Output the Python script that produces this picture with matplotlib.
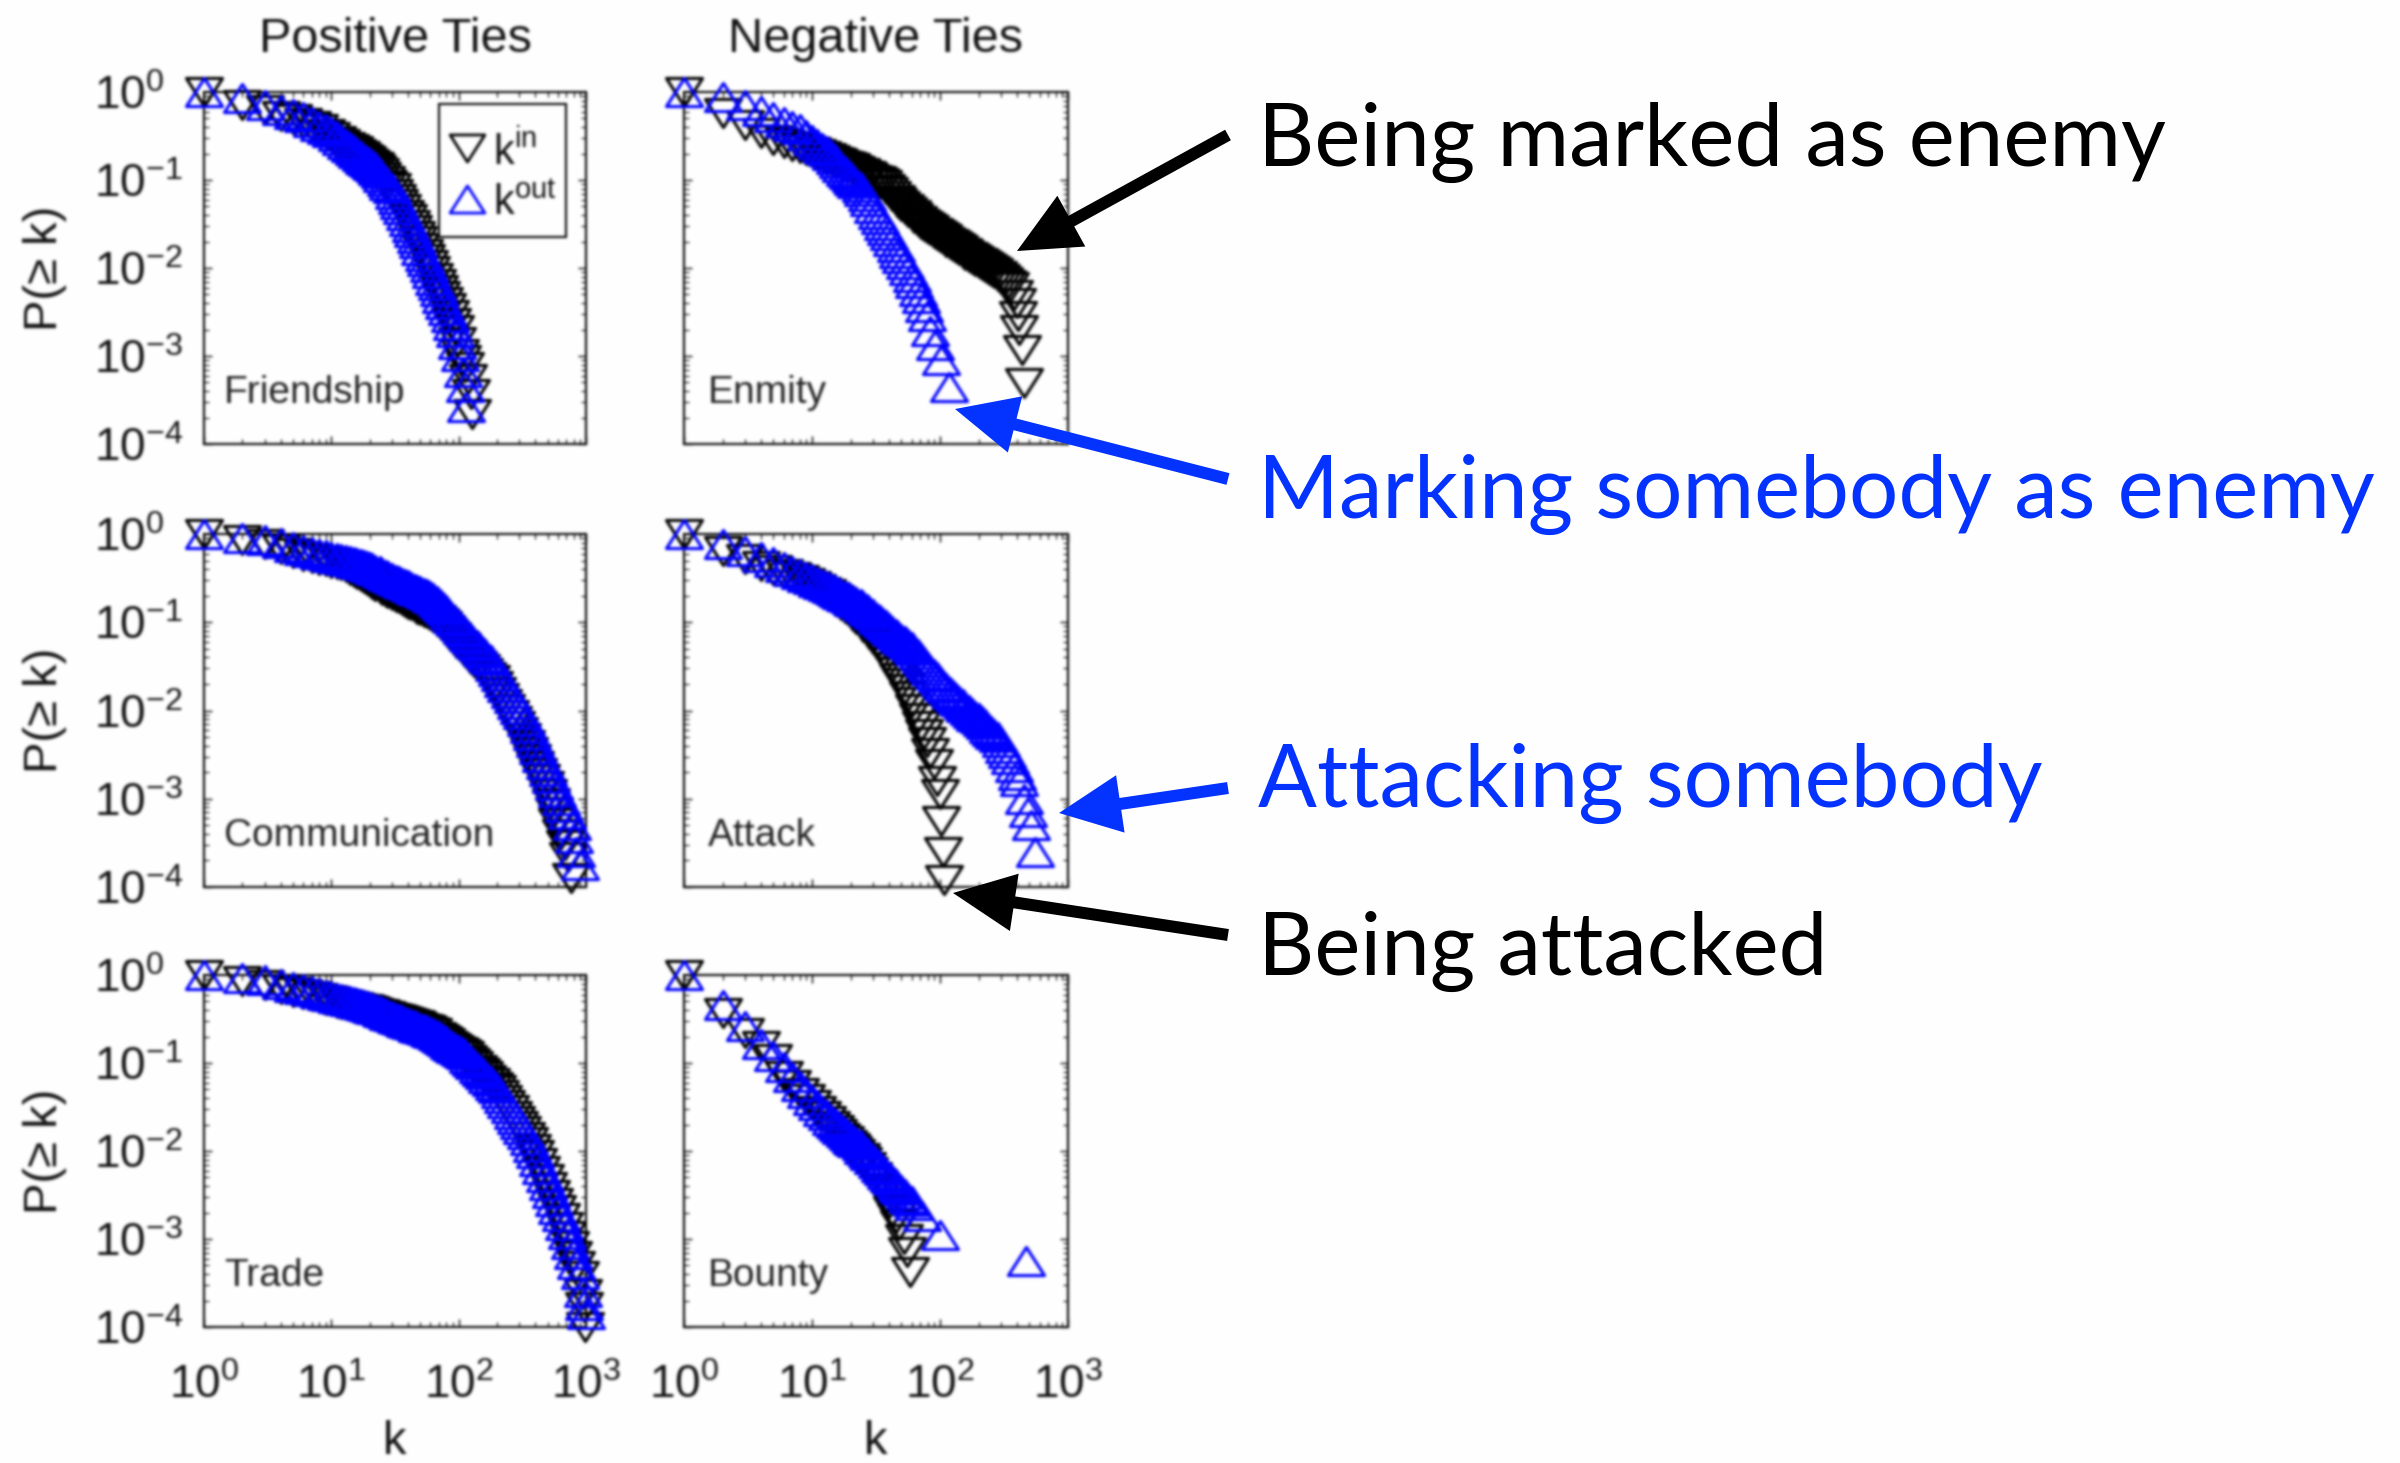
import numpy as np
import matplotlib
matplotlib.use("Agg")
import matplotlib.pyplot as plt
from matplotlib.path import Path
from matplotlib.patches import FancyArrow, Rectangle
from matplotlib.ticker import FixedLocator, LogLocator, FuncFormatter, NullFormatter

plt.rcParams['font.family'] = ['Liberation Sans', 'DejaVu Sans']
plt.rcParams['mathtext.fontset'] = 'custom'
plt.rcParams['mathtext.rm'] = 'Liberation Sans'
plt.rcParams['mathtext.it'] = 'Liberation Sans:italic'
plt.rcParams['mathtext.bf'] = 'Liberation Sans:bold'

# ---------------------------------------------------------------------------
# Cumulative degree distributions, (k, P(>= k)) for in-degree and out-degree
# ---------------------------------------------------------------------------
friend_in = [(1, 1.0), (2, 0.71), (3, 0.62), (4, 0.54), (5, 0.49), (6, 0.443), (7, 0.406),
             (8, 0.376), (9, 0.337), (10, 0.305), (11, 0.28), (12, 0.258), (13, 0.24),
             (14, 0.224), (15, 0.211), (16, 0.198), (17, 0.186), (18, 0.175), (19, 0.163),
             (20, 0.152), (21, 0.143), (22, 0.14), (23, 0.13), (24, 0.12), (25, 0.108),
             (27, 0.0974), (28, 0.0886), (30, 0.0806), (31, 0.07), (33, 0.0608), (34, 0.0535),
             (36, 0.047), (38, 0.04), (40, 0.0357), (42, 0.031), (44, 0.0268), (46, 0.0232),
             (48, 0.0202), (50, 0.017), (53, 0.0145), (55, 0.0125), (58, 0.0108), (61, 0.00915),
             (64, 0.00776), (67, 0.00665), (70, 0.00569), (73, 0.00484), (77, 0.00412),
             (81, 0.00349), (85, 0.00294), (89, 0.00239), (93, 0.00195), (97, 0.00144),
             (102, 0.00105), (107, 0.0009), (112, 0.00075), (118, 0.00055), (124, 0.00037),
             (127, 0.00022)]
friend_out = [(1, 1.0), (2, 0.85), (3, 0.71), (4, 0.63), (5, 0.56), (6, 0.515), (7, 0.459),
              (8, 0.414), (9, 0.378), (10, 0.348), (11, 0.316), (12, 0.284), (13, 0.258),
              (14, 0.236), (15, 0.218), (16, 0.201), (17, 0.188), (18, 0.175), (19, 0.163),
              (20, 0.155), (21, 0.147), (22, 0.14), (23, 0.13), (24, 0.12), (25, 0.108),
              (27, 0.0974), (28, 0.0886), (30, 0.0806), (31, 0.07), (33, 0.0608), (34, 0.0535),
              (36, 0.047), (38, 0.04), (40, 0.034), (42, 0.0295), (44, 0.0255), (46, 0.0221),
              (48, 0.0192), (50, 0.0162), (53, 0.0138), (55, 0.0119), (58, 0.0103),
              (61, 0.00871), (64, 0.00739), (67, 0.00633), (70, 0.00542), (73, 0.00461),
              (77, 0.00392), (81, 0.00332), (85, 0.0028), (89, 0.00228), (93, 0.00186),
              (97, 0.00137), (102, 0.001), (108, 0.00065), (112, 0.00045), (115, 0.00026)]

enmity_in = [(1, 1.0), (2, 0.575), (3, 0.427), (4, 0.339), (5, 0.288), (6, 0.264), (7, 0.245),
             (8, 0.23), (9, 0.217), (10, 0.206), (11, 0.196), (12, 0.186), (13, 0.177),
             (14, 0.169), (15, 0.162), (16, 0.156), (17, 0.15), (18, 0.145), (19, 0.14),
             (20, 0.136), (21, 0.131), (22, 0.126), (24, 0.12), (25, 0.115), (27, 0.11),
             (28, 0.106), (30, 0.101), (32, 0.0962), (34, 0.0915), (36, 0.0871), (38, 0.0797),
             (40, 0.073), (42, 0.0662), (45, 0.06), (47, 0.055), (50, 0.0504), (53, 0.0467),
             (56, 0.0433), (60, 0.04), (63, 0.037), (67, 0.0341), (71, 0.0315), (75, 0.0299),
             (79, 0.0283), (84, 0.0267), (89, 0.0252), (94, 0.0238), (100, 0.0224),
             (106, 0.0212), (112, 0.02), (119, 0.0189), (126, 0.0178), (133, 0.0168),
             (141, 0.0159), (150, 0.015), (158, 0.0142), (168, 0.0134), (178, 0.0127),
             (188, 0.0121), (200, 0.0115), (211, 0.0109), (224, 0.0104), (237, 0.00985),
             (251, 0.00933), (266, 0.00868), (282, 0.00807), (299, 0.0075), (316, 0.00697),
             (335, 0.00648), (355, 0.00603), (376, 0.0049), (398, 0.00398), (407, 0.00282),
             (417, 0.002), (437, 0.00117), (457, 0.00049)]
enmity_out = [(1, 1.0), (2, 0.871), (3, 0.708), (4, 0.603), (5, 0.525), (6, 0.462), (7, 0.415),
              (8, 0.377), (9, 0.327), (10, 0.288), (11, 0.258), (12, 0.232), (13, 0.212),
              (14, 0.193), (15, 0.173), (16, 0.155), (17, 0.141), (18, 0.128), (19, 0.117),
              (20, 0.107), (21, 0.0991), (22, 0.0917), (24, 0.0824), (25, 0.0741), (27, 0.0652),
              (28, 0.0574), (30, 0.0486), (32, 0.0412), (34, 0.0356), (36, 0.0308), (38, 0.027),
              (40, 0.0237), (42, 0.0202), (45, 0.0173), (47, 0.015), (50, 0.013), (53, 0.0112),
              (56, 0.0096), (60, 0.008), (63, 0.00668), (67, 0.00551), (71, 0.00455),
              (75, 0.00358), (79, 0.00282), (84, 0.0019), (91, 0.00132), (102, 0.00089),
              (117, 0.000447)]

comm_in = [(1, 1.0), (2, 0.851), (3, 0.776), (4, 0.681), (5, 0.614), (6, 0.566), (7, 0.536),
           (8, 0.511), (9, 0.489), (10, 0.47), (11, 0.454), (12, 0.44), (13, 0.425), (14, 0.395),
           (15, 0.375), (16, 0.356), (17, 0.337), (18, 0.318), (19, 0.302), (20, 0.287),
           (21, 0.272), (22, 0.258), (24, 0.243), (25, 0.232), (27, 0.222), (28, 0.213),
           (30, 0.203), (32, 0.194), (34, 0.186), (36, 0.178), (38, 0.17), (40, 0.163),
           (42, 0.156), (45, 0.15), (47, 0.143), (50, 0.138), (53, 0.132), (56, 0.126),
           (60, 0.121), (63, 0.115), (67, 0.106), (71, 0.0976), (75, 0.0896), (79, 0.0816),
           (84, 0.0742), (89, 0.0676), (94, 0.0613), (100, 0.0556), (106, 0.0508),
           (112, 0.0464), (119, 0.0422), (126, 0.0384), (133, 0.0351), (141, 0.0321),
           (150, 0.0292), (158, 0.0266), (168, 0.0242), (178, 0.022), (188, 0.0189),
           (200, 0.0162), (211, 0.0139), (224, 0.012), (237, 0.0103), (251, 0.00888),
           (266, 0.00768), (282, 0.00664), (299, 0.0057), (316, 0.00488), (335, 0.00405),
           (355, 0.00336), (376, 0.00279), (398, 0.00232), (422, 0.00198), (447, 0.00168),
           (473, 0.00138), (501, 0.00114), (531, 0.0009), (562, 0.00071), (596, 0.00053),
           (631, 0.0004), (690, 0.0003), (724, 0.00022), (760, 0.000126)]
comm_out = [(1, 1.0), (2, 0.912), (3, 0.851), (4, 0.794), (5, 0.719), (6, 0.665), (7, 0.63),
            (8, 0.6), (9, 0.574), (10, 0.552), (11, 0.533), (12, 0.516), (13, 0.502),
            (14, 0.489), (15, 0.477), (16, 0.466), (17, 0.456), (18, 0.446), (19, 0.434),
            (20, 0.422), (21, 0.408), (22, 0.395), (24, 0.378), (25, 0.361), (27, 0.347),
            (28, 0.334), (30, 0.319), (32, 0.305), (34, 0.293), (36, 0.281), (38, 0.271),
            (40, 0.261), (42, 0.251), (45, 0.241), (47, 0.232), (50, 0.224), (53, 0.215),
            (56, 0.207), (60, 0.197), (63, 0.188), (67, 0.175), (71, 0.162), (75, 0.148),
            (79, 0.136), (84, 0.124), (89, 0.113), (94, 0.103), (100, 0.093), (106, 0.0846),
            (112, 0.077), (119, 0.0703), (126, 0.0641), (133, 0.0586), (141, 0.0536),
            (150, 0.0489), (158, 0.0447), (168, 0.0408), (178, 0.0372), (188, 0.0322),
            (200, 0.0279), (211, 0.0243), (224, 0.0211), (237, 0.0183), (251, 0.0159),
            (266, 0.0138), (282, 0.012), (299, 0.0104), (316, 0.00902), (335, 0.00755),
            (355, 0.00632), (376, 0.00525), (398, 0.00436), (422, 0.00362), (447, 0.00301),
            (473, 0.0025), (501, 0.00207), (531, 0.00172), (562, 0.00143), (596, 0.00118),
            (631, 0.00098), (668, 0.000814), (708, 0.000676), (776, 0.0005), (800, 0.000355),
            (830, 0.000251), (890, 0.000178)]

attack_in = [(1, 1.0), (2, 0.646), (3, 0.525), (4, 0.437), (5, 0.389), (6, 0.352), (7, 0.324),
             (8, 0.301), (9, 0.277), (10, 0.257), (11, 0.238), (12, 0.221), (13, 0.208),
             (14, 0.195), (15, 0.181), (16, 0.168), (17, 0.157), (18, 0.146), (19, 0.137),
             (20, 0.128), (21, 0.119), (22, 0.11), (24, 0.0991), (25, 0.0893), (27, 0.0808),
             (28, 0.0731), (30, 0.0645), (32, 0.0569), (34, 0.0508), (36, 0.0453), (38, 0.0401),
             (40, 0.0355), (42, 0.031), (45, 0.0271), (47, 0.0236), (50, 0.0205), (53, 0.0174),
             (56, 0.0147), (60, 0.0124), (63, 0.0104), (67, 0.00831), (71, 0.00664),
             (75, 0.00538), (79, 0.00436), (84, 0.0033), (89, 0.0025), (95, 0.00158),
             (100, 0.00112), (102, 0.000562), (105, 0.000251), (107, 0.00012)]
attack_out = [(1, 1.0), (2, 0.776), (3, 0.646), (4, 0.55), (5, 0.479), (6, 0.422), (7, 0.383),
              (8, 0.352), (9, 0.327), (10, 0.306), (11, 0.288), (12, 0.272), (13, 0.258),
              (14, 0.245), (15, 0.232), (16, 0.22), (17, 0.21), (18, 0.2), (19, 0.191),
              (20, 0.183), (21, 0.176), (22, 0.169), (24, 0.16), (25, 0.152), (27, 0.142),
              (28, 0.133), (30, 0.123), (32, 0.113), (34, 0.105), (36, 0.0982), (38, 0.092),
              (40, 0.0861), (42, 0.08), (45, 0.0743), (47, 0.0696), (50, 0.0652), (53, 0.0607),
              (56, 0.0565), (60, 0.0522), (63, 0.0483), (67, 0.0434), (71, 0.039), (75, 0.0354),
              (79, 0.0321), (84, 0.029), (89, 0.0262), (94, 0.0237), (100, 0.0215),
              (106, 0.0196), (112, 0.0179), (119, 0.0164), (126, 0.0151), (133, 0.014),
              (141, 0.0129), (150, 0.0119), (158, 0.0109), (168, 0.0101), (178, 0.00944),
              (188, 0.00877), (200, 0.00815), (211, 0.00754), (224, 0.00697), (237, 0.00641),
              (251, 0.0059), (266, 0.00544), (282, 0.00501), (299, 0.00434), (316, 0.00376),
              (335, 0.00326), (355, 0.00282), (376, 0.0023), (398, 0.00187), (417, 0.00158),
              (457, 0.001), (490, 0.000708), (513, 0.000501), (550, 0.000251)]

trade_in = [(1, 1.0), (2, 0.851), (3, 0.776), (4, 0.701), (5, 0.649), (6, 0.607), (7, 0.574),
            (8, 0.547), (9, 0.524), (10, 0.504), (11, 0.486), (12, 0.471), (13, 0.458),
            (14, 0.446), (15, 0.435), (16, 0.425), (17, 0.415), (18, 0.406), (19, 0.398),
            (20, 0.39), (21, 0.382), (22, 0.374), (24, 0.363), (25, 0.353), (27, 0.344),
            (28, 0.336), (30, 0.326), (32, 0.316), (34, 0.308), (36, 0.301), (38, 0.294),
            (40, 0.287), (42, 0.279), (45, 0.272), (47, 0.266), (50, 0.251), (53, 0.243),
            (56, 0.235), (60, 0.227), (63, 0.219), (67, 0.197), (71, 0.185), (75, 0.176),
            (79, 0.167), (84, 0.158), (89, 0.149), (94, 0.142), (100, 0.134), (106, 0.126),
            (112, 0.12), (119, 0.109), (126, 0.0998), (133, 0.0917), (141, 0.0843),
            (150, 0.0771), (158, 0.0706), (168, 0.0644), (178, 0.0588), (188, 0.0538),
            (200, 0.0492), (211, 0.0434), (224, 0.0383), (237, 0.0333), (251, 0.029),
            (266, 0.0253), (282, 0.022), (299, 0.0193), (316, 0.0168), (335, 0.0146),
            (355, 0.0127), (376, 0.0106), (398, 0.00893), (422, 0.00727), (447, 0.00591),
            (473, 0.00481), (501, 0.00391), (531, 0.00318), (562, 0.00259), (596, 0.00211),
            (631, 0.00172), (668, 0.00137), (708, 0.00108), (750, 0.000833), (794, 0.000641),
            (841, 0.000492), (891, 0.000378), (940, 0.000238), (970, 0.00017), (985, 0.0001)]
trade_out = [(1, 1.0), (2, 0.933), (3, 0.871), (4, 0.795), (5, 0.74), (6, 0.697), (7, 0.656),
             (8, 0.624), (9, 0.596), (10, 0.573), (11, 0.552), (12, 0.533), (13, 0.518),
             (14, 0.504), (15, 0.491), (16, 0.478), (17, 0.467), (18, 0.457), (19, 0.445),
             (20, 0.434), (21, 0.422), (22, 0.41), (24, 0.395), (25, 0.38), (27, 0.367),
             (28, 0.355), (30, 0.341), (32, 0.328), (34, 0.316), (36, 0.305), (38, 0.296),
             (40, 0.287), (42, 0.277), (45, 0.268), (47, 0.259), (50, 0.251), (53, 0.243),
             (56, 0.235), (60, 0.227), (63, 0.219), (67, 0.207), (71, 0.195), (75, 0.185),
             (79, 0.176), (84, 0.166), (89, 0.157), (94, 0.149), (100, 0.141), (106, 0.133),
             (112, 0.126), (119, 0.115), (126, 0.105), (133, 0.0965), (141, 0.0887),
             (150, 0.0812), (158, 0.0743), (168, 0.0678), (178, 0.0619), (188, 0.0566),
             (200, 0.0518), (211, 0.0457), (224, 0.0403), (237, 0.0351), (251, 0.0305),
             (266, 0.0266), (282, 0.0232), (299, 0.0203), (316, 0.0177), (335, 0.0154),
             (355, 0.0134), (376, 0.0112), (398, 0.0094), (422, 0.00765), (447, 0.00622),
             (473, 0.00506), (501, 0.00412), (531, 0.00335), (562, 0.00273), (596, 0.00222),
             (631, 0.00181), (668, 0.00144), (708, 0.00114), (750, 0.000877), (794, 0.000675),
             (841, 0.000518), (891, 0.000398), (940, 0.000251), (970, 0.000178),
             (1000, 0.000141)]

bounty_in = [(1, 1.0), (2, 0.372), (3, 0.219), (4, 0.158), (5, 0.112), (6, 0.071), (7, 0.0565),
             (8, 0.0462), (9, 0.0388), (10, 0.033), (11, 0.0284), (12, 0.0247), (13, 0.0218),
             (14, 0.0193), (15, 0.0173), (16, 0.0155), (17, 0.0141), (18, 0.0129), (19, 0.0118),
             (20, 0.0108), (21, 0.00996), (22, 0.0092), (24, 0.0083), (25, 0.00745),
             (27, 0.00657), (28, 0.0058), (30, 0.005), (32, 0.0043), (34, 0.00376),
             (36, 0.0033), (38, 0.00291), (40, 0.00257), (42, 0.00207), (45, 0.00172),
             (48, 0.00145), (52, 0.001), (55, 0.000708), (58, 0.000417)]
bounty_out = [(1, 1.0), (2, 0.457), (3, 0.263), (4, 0.166), (5, 0.12), (6, 0.0889), (7, 0.0689),
              (8, 0.0551), (9, 0.0453), (10, 0.038), (11, 0.0329), (12, 0.0288), (13, 0.0256),
              (14, 0.0227), (15, 0.0208), (16, 0.019), (17, 0.0176), (18, 0.0163), (19, 0.0152),
              (20, 0.0142), (21, 0.0134), (22, 0.0126), (24, 0.0116), (25, 0.0106),
              (27, 0.00974), (28, 0.00895), (30, 0.00805), (32, 0.00724), (34, 0.00661),
              (36, 0.00603), (38, 0.00554), (40, 0.00509), (42, 0.00465), (45, 0.00424),
              (47, 0.00389), (50, 0.00356), (53, 0.00324), (56, 0.00295), (60, 0.00268),
              (63, 0.00243), (72, 0.00182), (100, 0.00112), (470, 0.000562)]

column_titles = ["Positive Ties", "Negative Ties"]
panel_names = [["Friendship", "Enmity"], ["Communication", "Attack"], ["Trade", "Bounty"]]
panel_series = [
    [(friend_in, friend_out), (enmity_in, enmity_out)],
    [(comm_in, comm_out), (attack_in, attack_out)],
    [(trade_in, trade_out), (bounty_in, bounty_out)],
]
x_ticks = [1, 10, 100, 1000]
y_ticks = [1e-4, 1e-3, 1e-2, 1e-1, 1]
legend_labels = [r'$\mathdefault{k^{in}}$', r'$\mathdefault{k^{out}}$']

callouts = ["Being marked as enemy", "Marking somebody as enemy",
            "Attacking somebody", "Being attacked"]

# ---------------------------------------------------------------------------
W, H = 2400, 1463
fig = plt.figure(figsize=(W / 100, H / 100), dpi=100)
fig.patch.set_facecolor('white')

BLUE = '#0000FF'
CALLOUT_BLUE = '#0433FF'
INK = '#111111'

col_x = [204, 684]
col_w = [382, 384]
row_y = [92, 534, 975]
row_h = [352, 353, 352]

# open triangles, a little wider than tall
tri_up = Path([(-1, -0.78), (1, -0.78), (0, 0.78), (-1, -0.78)],
              [Path.MOVETO, Path.LINETO, Path.LINETO, Path.CLOSEPOLY])
tri_down = Path([(-1, 0.78), (1, 0.78), (0, -0.78), (-1, 0.78)],
                [Path.MOVETO, Path.LINETO, Path.LINETO, Path.CLOSEPOLY])
MS = 26
MEW = 2.2


def pow10(v, pos):
    e = int(round(np.log10(v)))
    return r'$\mathdefault{10^{%d}}$' % e


axes = []
for r in range(3):
    for c in range(2):
        rect = [col_x[c] / W, 1 - (row_y[r] + row_h[r]) / H, col_w[c] / W, row_h[r] / H]
        ax = fig.add_axes(rect)
        axes.append(ax)
        s_in, s_out = panel_series[r][c]
        k_in, p_in = zip(*s_in)
        k_out, p_out = zip(*s_out)
        ax.plot(k_in, p_in, linestyle='none', marker=tri_down, ms=MS, mfc='none', mec='black',
                mew=MEW, clip_on=False, zorder=3)
        ax.plot(k_out, p_out, linestyle='none', marker=tri_up, ms=MS, mfc='none', mec=BLUE,
                mew=MEW, clip_on=False, zorder=4)
        ax.set_xscale('log')
        ax.set_yscale('log')
        ax.set_xlim(1, 1000)
        ax.set_ylim(1e-4, 1)
        ax.xaxis.set_major_locator(FixedLocator(x_ticks))
        ax.yaxis.set_major_locator(FixedLocator(y_ticks))
        ax.xaxis.set_minor_locator(LogLocator(base=10, subs=np.arange(2, 10), numticks=30))
        ax.yaxis.set_minor_locator(LogLocator(base=10, subs=np.arange(2, 10), numticks=30))
        ax.xaxis.set_minor_formatter(NullFormatter())
        ax.yaxis.set_minor_formatter(NullFormatter())
        ax.xaxis.set_major_formatter(FuncFormatter(pow10))
        ax.yaxis.set_major_formatter(FuncFormatter(pow10))
        ax.tick_params(which='both', direction='in', top=True, right=True,
                       labelsize=33, labelcolor=INK)
        ax.tick_params(which='major', length=6, width=1.0)
        ax.tick_params(which='minor', length=3.5, width=0.8)
        ax.tick_params(axis='x', which='major', pad=27)
        ax.tick_params(axis='y', which='major', pad=79)
        ax.tick_params(labelleft=(c == 0), labelbottom=(r == 2))
        if c == 0:
            for lbl in ax.get_yticklabels():
                lbl.set_horizontalalignment('left')
        for sp in ax.spines.values():
            sp.set_linewidth(1.5)
        ax.text(0.052 if c == 0 else 0.062, 0.116, panel_names[r][c], transform=ax.transAxes,
                fontsize=28, color='#222222', ha='left', va='baseline', zorder=5)

# key for the two series, boxed in the upper right of the first panel
lax = axes[0]
lax.add_patch(Rectangle((0.615, 0.588), 0.333, 0.378, transform=lax.transAxes,
                        facecolor='white', edgecolor='black', linewidth=1.5, zorder=6))
for yy, mk, col, lab in [(0.841, tri_down, 'black', legend_labels[0]),
                         (0.696, tri_up, BLUE, legend_labels[1])]:
    lax.plot([0.688], [yy], transform=lax.transAxes, linestyle='none', marker=mk, ms=MS - 1,
             mfc='none', mec=col, mew=2.0, clip_on=False, zorder=7)
    lax.text(0.757, yy, lab, transform=lax.transAxes, fontsize=30, color=INK,
             ha='left', va='center_baseline', zorder=7)

# headings and axis names (part of the figure body), in pixel units
ov_body = fig.add_axes([0, 0, 1, 1], zorder=8)
ov_body.set_xlim(0, W)
ov_body.set_ylim(H, 0)
ov_body.axis('off')
for c, title in enumerate(column_titles):
    cx = col_x[c] + col_w[c] / 2
    ov_body.text(cx, 52, title, fontsize=35, color=INK, ha='center', va='baseline')
    ov_body.text(cx, 1442, 'k', fontsize=34, color=INK, ha='center', va='center')
for r in range(3):
    ov_body.text(45, row_y[r] + row_h[r] / 2, 'P(≥ k)', fontsize=34, color=INK,
                 rotation=90, ha='center', va='center')

# call-outs and arrows, in pixel units
ov_call = fig.add_axes([0, 0, 1, 1], zorder=10)
ov_call.set_xlim(0, W)
ov_call.set_ylim(H, 0)
ov_call.axis('off')

callout_specs = [
    (callouts[0], 166, 'black', 909),
    (callouts[1], 518, CALLOUT_BLUE, 1119),
    (callouts[2], 807, CALLOUT_BLUE, 790),
    (callouts[3], 975, 'black', 557),
]
base_fs = 60
ctexts = []
for s, y, col, _ in callout_specs:
    ctexts.append(ov_call.text(1258, y, s, fontsize=base_fs, family='Lato', color=col,
                               ha='left', va='baseline'))
fig.canvas.draw()
rend = fig.canvas.get_renderer()
ratios = [spec[3] / t.get_window_extent(rend).width for t, spec in zip(ctexts, callout_specs)]
fs = base_fs * float(np.median(ratios))
for t in ctexts:
    t.set_fontsize(fs)

arrows = [
    ((1228, 135), (1017, 251), 'black'),
    ((1228, 479), (955, 409), CALLOUT_BLUE),
    ((1228, 788), (1059, 813), CALLOUT_BLUE),
    ((1228, 935), (953, 893), 'black'),
]
for (x0, y0), (x1, y1), col in arrows:
    ov_call.add_patch(FancyArrow(x0, y0, x1 - x0, y1 - y0, width=12, head_width=58,
                                 head_length=62, length_includes_head=True, color=col, lw=0))


def gaussian_blur(img, sigma):
    rad = int(np.ceil(3 * sigma))
    xs = np.arange(-rad, rad + 1)
    ker = np.exp(-xs ** 2 / (2 * sigma ** 2))
    ker /= ker.sum()
    for axis in (0, 1):
        pad = [(0, 0)] * img.ndim
        pad[axis] = (rad, rad)
        padded = np.pad(img, pad, mode='edge')
        acc = np.zeros_like(img)
        n = img.shape[axis]
        for i, w in enumerate(ker):
            sl = [slice(None)] * img.ndim
            sl[axis] = slice(i, i + n)
            acc += w * padded[tuple(sl)]
        img = acc
    return img


# the figure body is soft; the call-outs on top of it are sharp
body_layer = axes + [ov_body]
ov_call.set_visible(False)
fig.canvas.draw()
body = np.asarray(fig.canvas.buffer_rgba())[..., :3].astype(float) / 255.0
body = gaussian_blur(body, 1.4)

for a in body_layer:
    a.set_visible(False)
ov_call.set_visible(True)
fig.patch.set_alpha(0.0)
fig.canvas.draw()
top = np.asarray(fig.canvas.buffer_rgba()).astype(float) / 255.0
alpha = top[..., 3:4]
img = top[..., :3] * alpha + body * (1.0 - alpha)
plt.imsave('out.png', np.clip(img, 0.0, 1.0))
